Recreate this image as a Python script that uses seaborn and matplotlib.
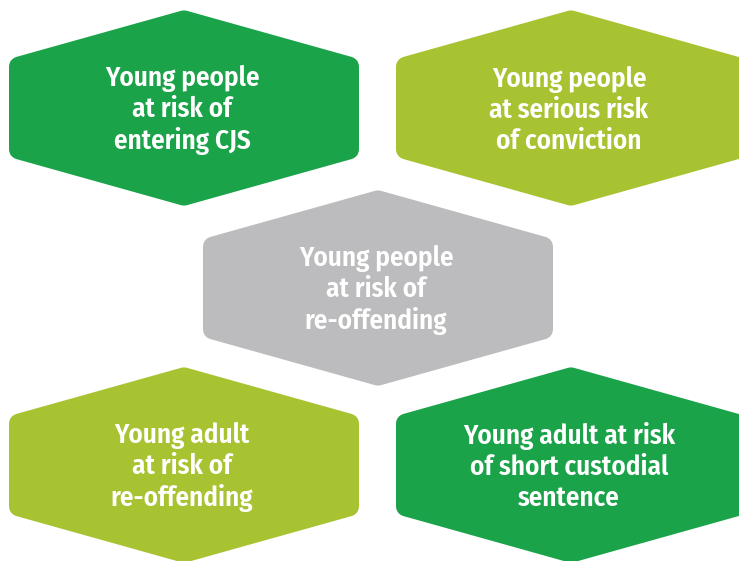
import matplotlib
matplotlib.use("Agg")
import matplotlib.pyplot as plt
from matplotlib.patches import Polygon
import numpy as np
import seaborn as sns

# hexagon labels, their grid slot (column, row) and colour group
labels = [
    "Young people\nat risk of\nentering CJS",
    "Young people\nat serious risk\nof conviction",
    "Young people\nat risk of\nre-offending",
    "Young adult\nat risk of\nre-offending",
    "Young adult at risk\nof short custodial\nsentence",
]
slot_col = [0, 2, 1, 0, 2]
slot_row = [0, 0, 1, 2, 2]
groups = ["dark", "lime", "grey", "lime", "dark"]

palette = {"dark": "#1ba34a", "lime": "#a8c332", "grey": "#bcbcbe"}

sns.set_theme(style="white")
plt.rcParams["font.family"] = ["Fira Sans Condensed", "DejaVu Sans"]

W, H = 739, 561
fig = plt.figure(figsize=(W / 100, H / 100), dpi=100)
ax = fig.add_axes([0, 0, 1, 1])
ax.set_xlim(0, W)
ax.set_ylim(H, 0)
ax.axis("off")

col_x = [184, 378, 571]
row_y = [108, 288, 465]
hw, hh, hs = 175, 98, 49   # half width, half height, half of flat side
r = 10                     # corner rounding


def inset(pts, d):
    # shift each edge inward by d and intersect neighbours
    n = len(pts)
    c = pts.mean(axis=0)
    lines = []
    for i in range(n):
        p, q = pts[i], pts[(i + 1) % n]
        e = q - p
        nrm = np.array([-e[1], e[0]]) / np.hypot(*e)
        if np.dot(c - p, nrm) < 0:
            nrm = -nrm
        lines.append((p + nrm * d, e))
    out = []
    for i in range(n):
        p1, e1 = lines[i - 1]
        p2, e2 = lines[i]
        t = np.linalg.solve(np.array([e1, -e2]).T, p2 - p1)
        out.append(p1 + t[0] * e1)
    return np.array(out)


lw_pt = 2 * r * 72 / 100
for lab, c, rw, g in zip(labels, slot_col, slot_row, groups):
    cx, cy = col_x[c], row_y[rw]
    pts = np.array([
        [cx, cy - hh], [cx + hw, cy - hs], [cx + hw, cy + hs],
        [cx, cy + hh], [cx - hw, cy + hs], [cx - hw, cy - hs],
    ], dtype=float)
    col = palette[g]
    ax.add_patch(Polygon(inset(pts, r), closed=True, facecolor=col,
                         edgecolor=col, linewidth=lw_pt, joinstyle="round"))
    ax.text(cx - 2, cy + 2, lab, ha="center", va="center", color="white",
            fontsize=19.5, fontweight="semibold", linespacing=1.2)

fig.savefig("out.png", dpi=100)
